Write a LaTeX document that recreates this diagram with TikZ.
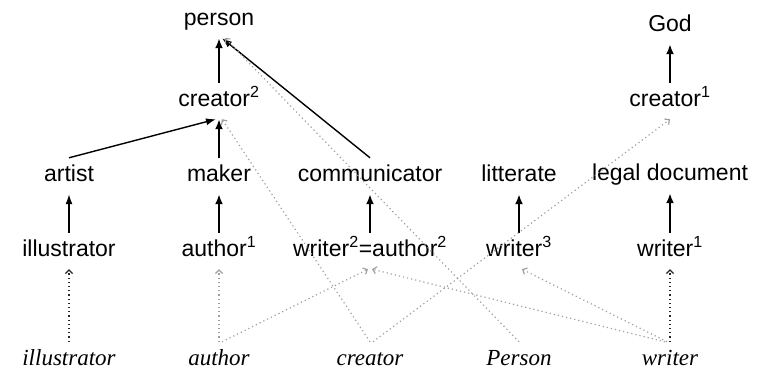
\documentclass[tikz,border=0pt]{standalone}
\usepackage{fontspec}
\setmainfont{Liberation Sans}
\newfontfamily\timesfont{Liberation Serif}
\usetikzlibrary{arrows.meta}
\begin{document}
\begin{tikzpicture}[x=1pt,y=-1pt,
 lbl/.style={anchor=base,font=\fontsize{23}{27}\selectfont,text height=17pt,text depth=5pt,inner ysep=7pt,inner xsep=0pt},
 itl/.style={lbl,font=\fontsize{23}{27}\selectfont\timesfont\itshape,text depth=4pt,inner ysep=6pt},
 isa/.style={-{Latex[length=10pt,width=8pt]},line width=2.4pt},
 isad/.style={-{Latex[length=10pt,width=7pt]},line width=1.4pt},
 lex/.style={-{Straight Barb[length=3.5pt,width=7pt]},dash pattern=on 1.2pt off 3pt,line width=1.2pt,gray!75},
 lexb/.style={lex,black!85}]
\useasboundingbox (0,0) rectangle (765,371);
% top layer
\node[lbl] (person) at (219,26) {person};
\node[lbl] (god) at (670,32) {God};
\node[lbl] (creatorB) at (219,107) {creator\textsuperscript{2}};
\node[lbl] (creatorA) at (670,107) {creator\textsuperscript{1}};
% row 3
\node[lbl] (artist) at (69,182) {artist};
\node[lbl] (maker) at (219,182) {maker};
\node[lbl] (comm) at (370,182) {communicator};
\node[lbl] (litt) at (519,182) {litterate};
\node[lbl] (legal) at (670,181) {legal document};
% row 4
\node[lbl] (illus) at (69,257) {illustrator};
\node[lbl] (authorA) at (219,257) {author\textsuperscript{1}};
\node[lbl] (writerB) at (370,257) {writer\textsuperscript{2}=author\textsuperscript{2}};
\node[lbl] (writerC) at (519,257) {writer\textsuperscript{3}};
\node[lbl] (writerA) at (670,257) {writer\textsuperscript{1}};
% words
\node[itl] (willus) at (69,365) {illustrator};
\node[itl] (wauthor) at (219,365) {author};
\node[itl] (wcreator) at (370,365) {creator};
\node[itl] (wperson) at (519,365) {Person};
\node[itl] (wwriter) at (670,365) {writer};
% solid arrows
\draw[isa] (creatorB.north) -- (person.south);
\draw[isa] (creatorA.north) -- (god.south);
\draw[isa] (maker.north) -- (creatorB.south);
\draw[isad] (artist.north) -- ([xshift=-3pt]creatorB.south);
\draw[isad] (comm.north) -- ([xshift=3pt]person.south);
\draw[isad] (illus.north) -- (artist.south);
\draw[isa] (authorA.north) -- (maker.south);
\draw[isa] (writerB.north) -- (comm.south);
\draw[isa] (writerC.north) -- (litt.south);
\draw[isa] (writerA.north) -- (legal.south);
% dotted lexical links
\draw[lexb] (willus.north) -- (illus.south);
\draw[lex] (wauthor.north) -- (authorA.south);
\draw[lex] ([xshift=3pt]wauthor.north) -- ([xshift=-2pt]writerB.south);
\draw[lex] (wcreator.north) -- ([xshift=3pt]creatorB.south);
\draw[lex] ([xshift=3pt]wcreator.north) -- (creatorA.south);
\draw[lex] (wperson.north) -- ([xshift=6pt]person.south);
\draw[lex] ([xshift=-5pt]wwriter.north) -- ([xshift=2pt]writerB.south);
\draw[lex] ([xshift=-3pt]wwriter.north) -- ([xshift=3pt]writerC.south);
\draw[lexb] (wwriter.north) -- (writerA.south);
\end{tikzpicture}
\end{document}
